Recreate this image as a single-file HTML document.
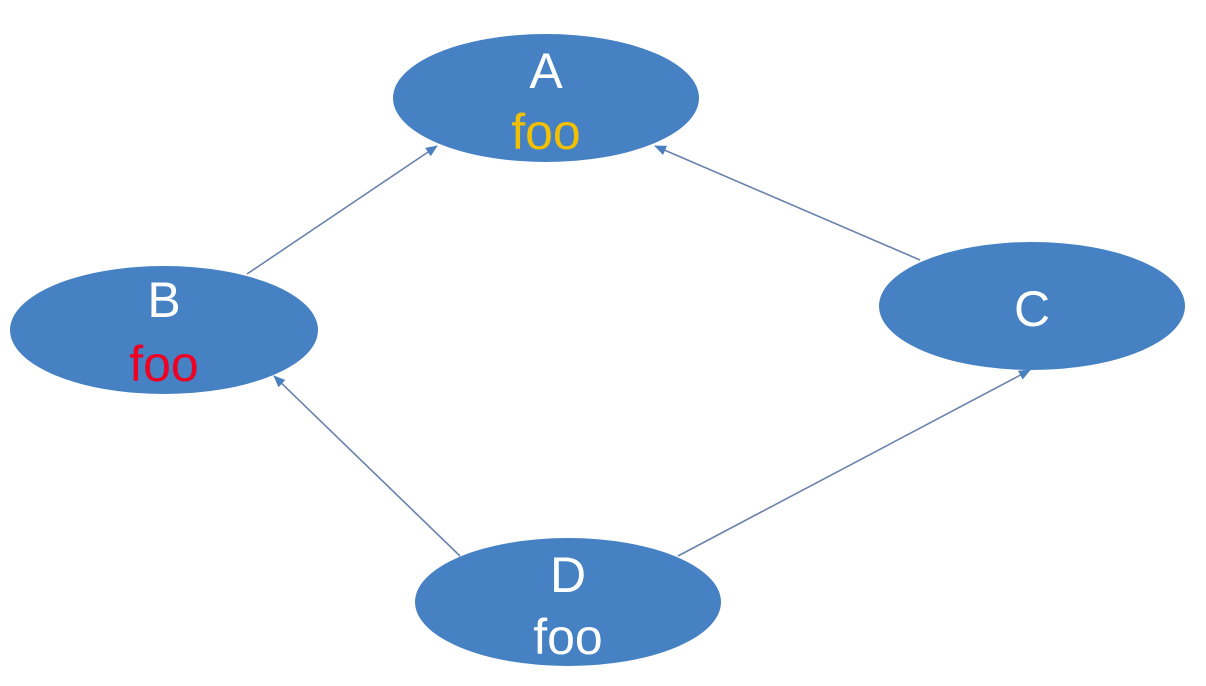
<!DOCTYPE html>
<html><head><meta charset="utf-8"><style>
html,body{margin:0;padding:0;background:#fff;}
svg{display:block;}
text{font-family:"Liberation Sans",sans-serif;font-size:50px;text-anchor:middle;}
</style></head><body>
<svg width="1206" height="686" viewBox="0 0 1206 686" xmlns="http://www.w3.org/2000/svg">
<defs>
<marker id="ah" markerWidth="12" markerHeight="10" refX="11" refY="5" orient="auto" markerUnits="userSpaceOnUse">
<path d="M0,0 L12,5 L0,10 z" fill="#4a7fc0"/>
</marker>
</defs>
<g stroke="#6a82ad" stroke-width="1.6" fill="none">
<line x1="247" y1="274" x2="437" y2="146" marker-end="url(#ah)"/>
<line x1="920" y1="260" x2="655" y2="146" marker-end="url(#ah)"/>
<line x1="460" y1="556" x2="274" y2="376" marker-end="url(#ah)"/>
<line x1="678" y1="556" x2="1030" y2="370" marker-end="url(#ah)"/>
</g>
<g fill="#4581c3">
<ellipse cx="546" cy="98" rx="153" ry="64"/>
<ellipse cx="164" cy="330" rx="154" ry="64"/>
<ellipse cx="1032" cy="306" rx="153" ry="64"/>
<ellipse cx="568" cy="602" rx="153" ry="64"/>
</g>
<text x="546" y="88" fill="#fff">A</text>
<text x="546" y="149" fill="#f2c000">foo</text>
<text x="164" y="317" fill="#fff">B</text>
<text x="164" y="381" fill="#ee0022">foo</text>
<text x="1032" y="326" fill="#fff">C</text>
<text x="568" y="592" fill="#fff">D</text>
<text x="568" y="654" fill="#fff">foo</text>
</svg>
</body></html>
